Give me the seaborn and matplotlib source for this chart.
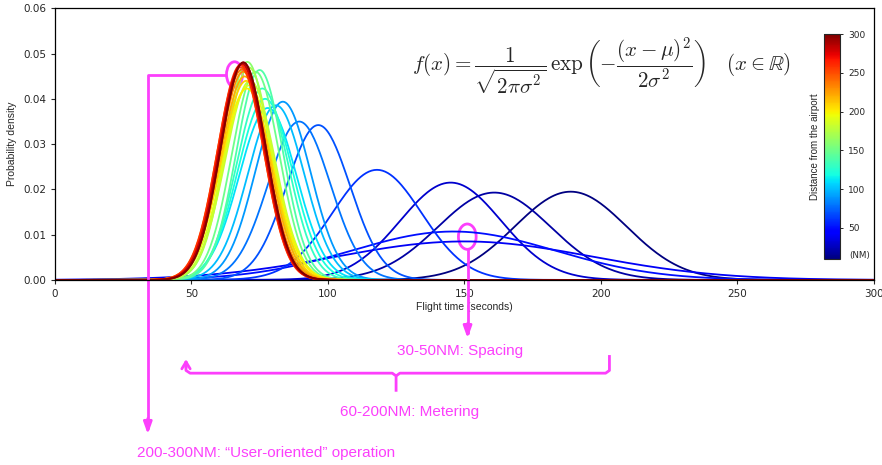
import numpy as np
import pandas as pd
import matplotlib
matplotlib.use("Agg")
import matplotlib.pyplot as plt
import seaborn as sns
from matplotlib.patches import Ellipse

# ---- data ----
distances = [10, 20, 30, 40, 50, 60, 70, 80, 90, 100,
             110, 120, 130, 140, 150, 160, 170, 180, 190, 200,
             210, 220, 230, 240, 250, 260, 270, 280, 290, 300]
mu = [189, 161, 145, 150, 146, 118, 96.5, 89.5, 83.5, 81,
      78, 77, 76, 75, 73.5, 70.5, 71, 71.5, 71, 70.3,
      70, 69.5, 69, 68.5, 68, 68, 68.5, 68.5, 69, 69]
sigma = [20.46, 20.67, 18.55, 46.9, 37.3, 16.4, 11.66, 11.4, 10.13, 10.34,
         10.5, 9.97, 9.43, 8.6, 8.67, 8.28, 8.49, 9.07, 9.28, 9.43,
         9.07, 8.87, 8.67, 8.58, 8.49, 8.4, 8.35, 8.35, 8.3, 8.3]
x_ticks = [0, 50, 100, 150, 200, 250, 300]
y_ticks = [0.00, 0.01, 0.02, 0.03, 0.04, 0.05, 0.06]
cbar_ticks = [50, 100, 150, 200, 250, 300]

# long-form table of the normal densities
xg = np.linspace(0, 300, 601)
rows = []
for d, m, s in zip(distances, mu, sigma):
    pdf = np.exp(-(xg - m) ** 2 / (2 * s ** 2)) / np.sqrt(2 * np.pi * s ** 2)
    rows.append(pd.DataFrame({"t": xg, "p": pdf, "dist": d}))
df = pd.concat(rows, ignore_index=True)

sns.set_style("ticks")
plt.rcParams["font.family"] = ["DejaVu Sans"]
plt.rcParams["mathtext.fontset"] = "cm"

fig = plt.figure(figsize=(8.82, 4.65), dpi=100)
ax = fig.add_axes([0.0624, 0.398, 0.928, 0.584])

jet = matplotlib.colormaps["jet"]
norm = matplotlib.colors.Normalize(vmin=10, vmax=300)
sns.lineplot(data=df, x="t", y="p", hue="dist", palette=jet, hue_norm=norm,
             legend=False, estimator=None, sort=False, linewidth=1.3, ax=ax)

ax.set_xlim(0, 300)
ax.set_ylim(0, 0.06)
ax.set_xticks(x_ticks)
ax.set_yticks(y_ticks)
ax.set_yticklabels([f"{v:.2f}" for v in y_ticks])
ax.tick_params(labelsize=7.5, length=3, width=0.8)
for sp in ax.spines.values():
    sp.set_linewidth(0.9)
    sp.set_color("black")
lab_font = dict(family="Liberation Sans", size=7.5)
ax.set_xlabel("Flight time (seconds)", fontdict=lab_font, labelpad=2)
ax.set_ylabel("Probability density", fontdict=lab_font, labelpad=4)

ax.text(0.667, 0.788,
        r"$f(x) = \dfrac{1}{\sqrt{2\pi\sigma^2}}\,\exp\left(-\dfrac{(x-\mu)^2}{2\sigma^2}\right)\quad (x \in \mathbb{R})$",
        transform=ax.transAxes, ha="center", va="center", fontsize=15.2)

# colorbar inset
cax = fig.add_axes([824 / 882, 1 - 259 / 465, 16 / 882, 225 / 465])
sm = matplotlib.cm.ScalarMappable(norm=norm, cmap=jet)
cb = fig.colorbar(sm, cax=cax, ticks=cbar_ticks)
cb.outline.set_linewidth(0.8)
cax.tick_params(labelsize=6.5, length=2.5, width=0.7)
cb.set_label("Distance from the airport", family="Liberation Sans", size=7, labelpad=3)
cax.yaxis.set_label_position("left")
cax.text(1.6, 0.015, "(NM)", transform=cax.transAxes, fontsize=6.3, ha="left", va="center")

# magenta annotations (data coordinates of the main axes, drawn outside too)
mg = "#fc3ffc"
lw = 2
kw = dict(color=mg, lw=lw, clip_on=False, solid_capstyle="butt")

# ellipse 1 near the red peak -> "User-oriented"
ax.add_patch(Ellipse((65.8, 0.0454), 5.9, 0.0056, fill=False, ec=mg, lw=lw, clip_on=False))
ax.plot([62.8, 34.0, 34.0], [0.0453, 0.0453, -0.0330], **kw)
ax.annotate("", xy=(34.0, -0.0347), xytext=(34.0, -0.0300), xycoords="data",
            arrowprops=dict(arrowstyle="-|>,head_length=0.7,head_width=0.25", color=mg, lw=lw),
            annotation_clip=False)

# ellipse 2 on wide curves -> "Spacing"
ax.add_patch(Ellipse((151.1, 0.00956), 6.5, 0.0056, fill=False, ec=mg, lw=lw, clip_on=False))
ax.plot([151.2, 151.2], [0.0068, -0.0120], **kw)
ax.annotate("", xy=(151.2, -0.0135), xytext=(151.2, -0.0090), xycoords="data",
            arrowprops=dict(arrowstyle="-|>,head_length=0.7,head_width=0.25", color=mg, lw=lw),
            annotation_clip=False)

# bracket -> "Metering"
yb = -0.0206
ax.plot([48.0, 48.0, 49.5, 123.6, 125.0, 125.0], [-0.0180, yb + 0.0006, yb, yb, yb - 0.0006, -0.0247], **kw)
ax.plot([125.0, 126.4, 201.8, 203.2, 203.2], [yb - 0.0006, yb, yb, yb + 0.0006, -0.0166], **kw)
ax.annotate("", xy=(48.0, -0.0169), xytext=(48.0, -0.0200), xycoords="data",
            arrowprops=dict(arrowstyle="->,head_length=0.5,head_width=0.3", color=mg, lw=lw),
            annotation_clip=False)

tkw = dict(color=mg, family="Liberation Sans", fontsize=11, va="center", clip_on=False)
ax.text(148.6, -0.0158, "30-50NM: Spacing", ha="center", **tkw)
ax.text(130.1, -0.0291, "60-200NM: Metering", ha="center", **tkw)
ax.text(29.9, -0.0382, "200-300NM: \u201cUser-oriented\u201d operation", ha="left", **tkw)

fig.savefig("out.png", dpi=100)
